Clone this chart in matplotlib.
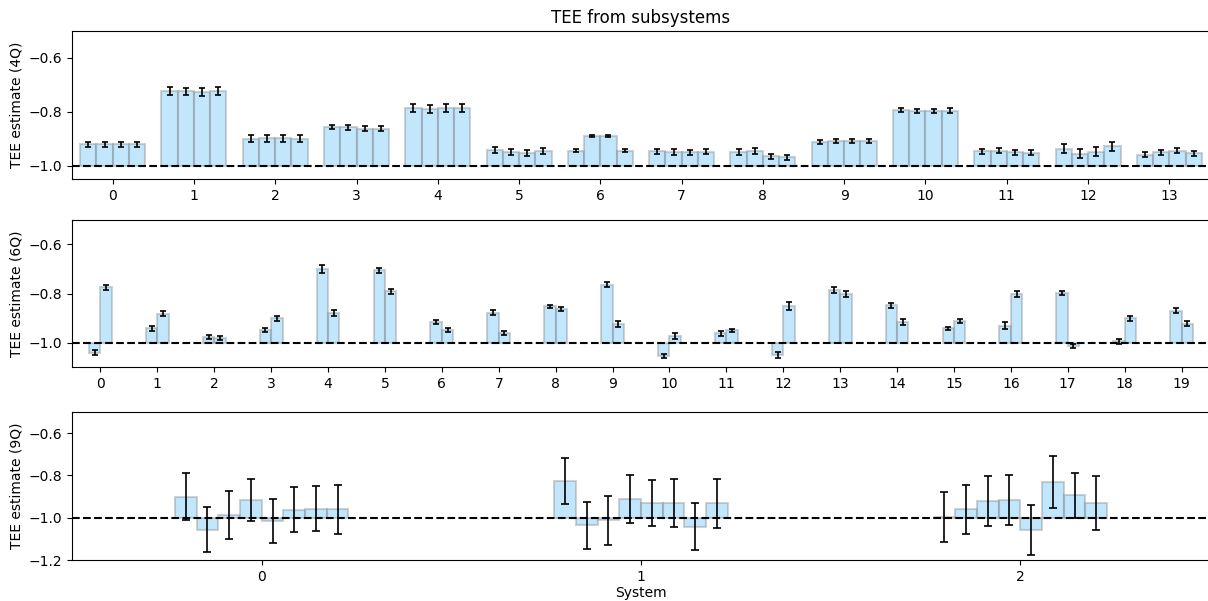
import numpy as np
import matplotlib.pyplot as plt

# TEE estimates per system, one list per subsystem choice
tee_4q = [
    [-0.921, -0.921, -0.921, -0.921],
    [-0.722, -0.724, -0.726, -0.722],
    [-0.900, -0.899, -0.898, -0.900],
    [-0.857, -0.858, -0.863, -0.863],
    [-0.787, -0.791, -0.787, -0.786],
    [-0.943, -0.949, -0.953, -0.946],
    [-0.945, -0.889, -0.889, -0.945],
    [-0.947, -0.950, -0.951, -0.948],
    [-0.948, -0.947, -0.966, -0.969],
    [-0.913, -0.910, -0.908, -0.910],
    [-0.794, -0.798, -0.798, -0.796],
    [-0.947, -0.945, -0.950, -0.953],
    [-0.938, -0.956, -0.949, -0.929],
    [-0.960, -0.951, -0.945, -0.954],
]
err_4q = [
    [0.009, 0.009, 0.009, 0.009],
    [0.014, 0.014, 0.014, 0.014],
    [0.013, 0.013, 0.013, 0.013],
    [0.009, 0.009, 0.009, 0.009],
    [0.015, 0.015, 0.015, 0.015],
    [0.012, 0.012, 0.012, 0.012],
    [0.005, 0.004, 0.004, 0.005],
    [0.010, 0.011, 0.010, 0.010],
    [0.011, 0.011, 0.010, 0.010],
    [0.008, 0.008, 0.008, 0.008],
    [0.008, 0.008, 0.008, 0.008],
    [0.010, 0.010, 0.009, 0.009],
    [0.017, 0.016, 0.017, 0.017],
    [0.009, 0.009, 0.009, 0.009],
]

tee_6q = [
    [-1.041, -0.775], [-0.942, -0.882], [-0.977, -0.980], [-0.950, -0.902],
    [-0.700, -0.881], [-0.706, -0.791], [-0.915, -0.950], [-0.878, -0.962],
    [-0.852, -0.864], [-0.764, -0.925], [-1.054, -0.973], [-0.963, -0.951],
    [-1.051, -0.850], [-0.785, -0.802], [-0.848, -0.916], [-0.942, -0.912],
    [-0.931, -0.802], [-0.797, -1.014], [-0.995, -0.902], [-0.870, -0.923],
]
err_6q = [
    [0.010, 0.009], [0.011, 0.010], [0.008, 0.008], [0.009, 0.010],
    [0.015, 0.012], [0.009, 0.011], [0.008, 0.009], [0.010, 0.008],
    [0.007, 0.008], [0.009, 0.011], [0.008, 0.011], [0.009, 0.008],
    [0.013, 0.017], [0.011, 0.012], [0.010, 0.013], [0.006, 0.008],
    [0.013, 0.012], [0.009, 0.009], [0.010, 0.012], [0.010, 0.010],
]

tee_9q = [
    [-0.901, -1.057, -0.989, -0.918, -1.017, -0.962, -0.957, -0.959],
    [-0.827, -1.036, -1.013, -0.910, -0.931, -0.929, -1.043, -0.931],
    [-0.998, -0.961, -0.921, -0.916, -1.057, -0.831, -0.893, -0.931],
]
err_9q = [
    [0.111, 0.106, 0.114, 0.099, 0.104, 0.106, 0.105, 0.116],
    [0.110, 0.112, 0.114, 0.114, 0.110, 0.113, 0.112, 0.116],
    [0.118, 0.115, 0.117, 0.117, 0.117, 0.121, 0.106, 0.126],
]

fig = plt.figure(figsize=(12.08, 6.01), dpi=100)
W, H = 1208, 601
left, right = 72, 1210
boxes = [(31, 179), (220, 367), (412, 560)]
axes = [fig.add_axes([left / W, 1 - b / H, (right - left) / W, (b - t) / H]) for t, b in boxes]

panels = [
    (tee_4q, err_4q, 0.2, 2, (-1.05, -0.5), "TEE estimate (4Q)"),
    (tee_6q, err_6q, 0.2, 2, (-1.1, -0.5), "TEE estimate (6Q)"),
    (tee_9q, err_9q, 0.4 / 7, 3, (-1.2, -0.5), "TEE estimate (9Q)"),
]

for ax, (vals, errs, w, cap, ylim, ylab) in zip(axes, panels):
    vals = np.array(vals)
    errs = np.array(errs)
    n_sys, n_sub = vals.shape
    offs = (np.arange(n_sub) - (n_sub - 1) / 2) * w
    for i in range(n_sys):
        x = i + offs
        ax.bar(x, vals[i] + 1, width=w, bottom=-1,
               facecolor=(0.53, 0.81, 0.98, 0.5),
               edgecolor=(0.5, 0.5, 0.5, 0.35), linewidth=1.5)
        ax.errorbar(x, vals[i], yerr=errs[i], fmt='none', ecolor='black',
                    elinewidth=1.2, capsize=cap, capthick=1.2)
    ax.axhline(-1, color='black', linestyle='--', linewidth=1.5)
    ax.set_xlim(-0.5, n_sys - 0.5)
    ax.set_xticks(range(n_sys))
    ax.set_ylim(*ylim)
    ax.set_yticks([t for t in [-1.2, -1.0, -0.8, -0.6] if t >= ylim[0] - 1e-9])
    ax.set_ylabel(ylab)

axes[0].set_title("TEE from subsystems")
axes[2].set_xlabel("System", labelpad=2)

plt.savefig("out.png", dpi=100)
